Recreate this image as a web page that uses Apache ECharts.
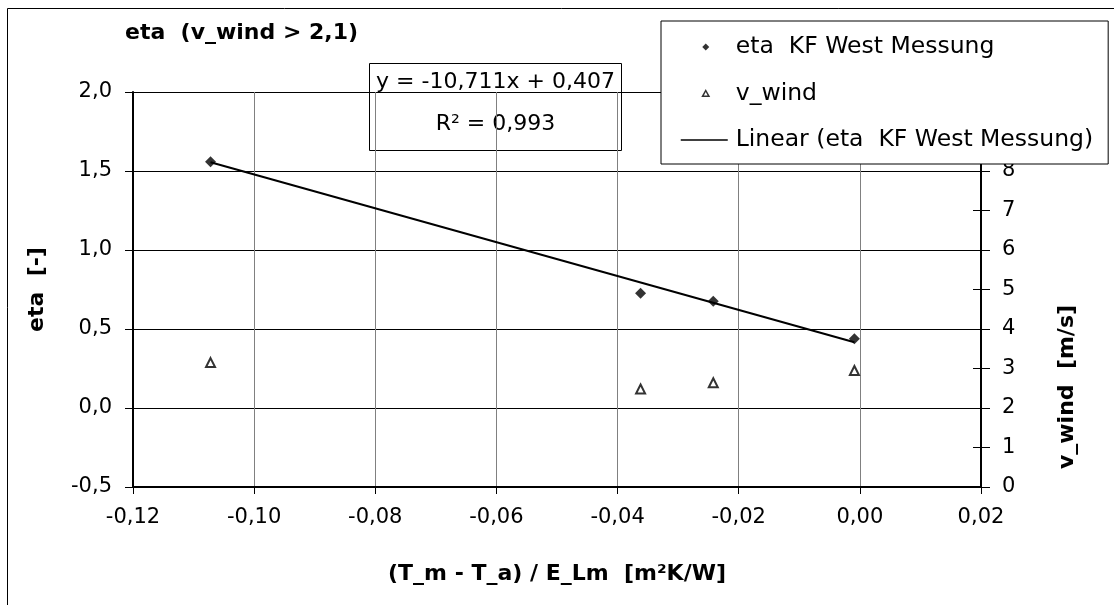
<!DOCTYPE html>
<html>
<head>
<meta charset="utf-8">
<script src="https://cdn.jsdelivr.net/npm/echarts@6/dist/echarts.min.js"></script>
<style>html,body{margin:0;padding:0;background:#fff;}#c{width:1114px;height:605px;}</style>
</head>
<body>
<div id="c"></div>
<script>
// ---- data ----
const xValues = [-0.1072, -0.0362, -0.0242, -0.0009];   // (T_m - T_a) / E_Lm
const etaValues = [1.559, 0.726, 0.675, 0.438];          // eta KF West Messung
const windValues = [3.15, 2.48, 2.64, 2.95];             // v_wind [m/s]
const trendSlope = -10.711;
const trendIntercept = 0.407;
const rSquared = '0,993';
const seriesNames = ['eta  KF West Messung', 'v_wind', 'Linear (eta  KF West Messung)'];
const titleText = 'eta  (v_wind > 2,1)';
const xAxisName = '(T_m - T_a) / E_Lm  [m\u00B2K/W]';
const yAxisName = 'eta  [-]';
const y2AxisName = 'v_wind  [m/s]';
const xRange = {min: -0.12, max: 0.02, interval: 0.02};
const yRange = {min: -0.5, max: 2.0, interval: 0.5};
const y2Range = {min: 0, max: 10, interval: 1};

const FONT = "'DejaVu Sans', sans-serif";
const comma = (v, d) => (Math.abs(v) < 1e-9 ? 0 : v).toFixed(d).replace('.', ',');

const etaData = xValues.map((x, i) => [x, etaValues[i]]);
const windData = xValues.map((x, i) => [x, windValues[i]]);
const tx0 = Math.min(...xValues), tx1 = Math.max(...xValues);
const trendData = [[tx0, trendSlope * tx0 + trendIntercept], [tx1, trendSlope * tx1 + trendIntercept]];
const eqText = 'y = ' + comma(trendSlope, 3) + 'x + ' + comma(trendIntercept, 3);

// legend icons drawn inside a 50x8 box (corner points keep the box size)
const BOX = ' M0,0 L0,0 M50,8 L50,8';
const iconDiamond = 'path://M25,0.5 L28.5,4 L25,7.5 L21.5,4 Z' + BOX;
const iconTriangle = 'path://M25,1 L28.2,6.8 L21.8,6.8 Z' + BOX;
const iconLine = 'path://M0,3.3 L47,3.3 L47,4.7 L0,4.7 Z' + BOX;

const chart = echarts.init(document.getElementById('c'), null, {renderer: 'canvas'});
chart.setOption({
  backgroundColor: '#fff',
  animation: false,
  textStyle: {fontFamily: FONT, color: '#000'},
  title: {
    text: titleText, left: 125, top: 22, padding: 0,
    textStyle: {fontFamily: FONT, fontSize: 22, fontWeight: 'bold', color: '#000'}
  },
  grid: {left: 133, right: 133, top: 92, bottom: 118, containLabel: false},
  legend: {
    orient: 'vertical', left: 661, top: 21,
    padding: [14, 15, 12, 19],
    itemWidth: 50, itemHeight: 8, itemGap: 22.5,
    symbolKeepAspect: true,
    backgroundColor: '#fff', borderColor: '#000', borderWidth: 1,
    textStyle: {fontFamily: FONT, fontSize: 23.5, color: '#000'},
    data: [
      {name: seriesNames[0], icon: iconDiamond, itemStyle: {color: '#000', borderWidth: 0}},
      {name: seriesNames[1], icon: iconTriangle, itemStyle: {color: '#fff', borderColor: '#000', borderWidth: 1.5}},
      {name: seriesNames[2], icon: iconLine, itemStyle: {color: '#000', borderWidth: 0}}
    ],
    selectedMode: false, z: 10
  },
  xAxis: {
    type: 'value', min: xRange.min, max: xRange.max, interval: xRange.interval,
    name: xAxisName, nameLocation: 'middle', nameGap: 76,
    nameTextStyle: {fontFamily: FONT, fontSize: 22, fontWeight: 'bold', color: '#000'},
    axisLine: {show: true, onZero: false, lineStyle: {color: '#000', width: 2}},
    axisTick: {show: true, inside: false, length: 7, lineStyle: {color: '#000', width: 1}},
    axisLabel: {fontFamily: FONT, fontSize: 21, color: '#000', margin: 20, formatter: v => comma(v, 2)},
    splitLine: {show: true, lineStyle: {color: '#808080', width: 1}}
  },
  yAxis: [
    {
      type: 'value', position: 'left', min: yRange.min, max: yRange.max, interval: yRange.interval,
      name: yAxisName, nameLocation: 'middle', nameGap: 85,
      nameTextStyle: {fontFamily: FONT, fontSize: 22, fontWeight: 'bold', color: '#000'},
      axisLine: {show: true, onZero: false, lineStyle: {color: '#000', width: 2}},
      axisTick: {show: true, inside: false, length: 8, lineStyle: {color: '#000', width: 1}},
      axisLabel: {fontFamily: FONT, fontSize: 21, color: '#000', margin: 21, formatter: v => comma(v, 1)},
      splitLine: {show: true, lineStyle: {color: '#000', width: 1}}
    },
    {
      type: 'value', position: 'right', min: y2Range.min, max: y2Range.max, interval: y2Range.interval,
      axisLine: {show: true, onZero: false, lineStyle: {color: '#000', width: 2}},
      axisTick: {show: true, inside: false, length: 9, lineStyle: {color: '#000', width: 1}},
      axisLabel: {fontFamily: FONT, fontSize: 21, color: '#000', margin: 21, formatter: v => String(Math.round(v))},
      splitLine: {show: false}
    },
    {
      type: 'value', position: 'right', min: y2Range.min, max: y2Range.max, interval: y2Range.interval,
      axisLine: {show: false, onZero: false},
      axisTick: {show: true, inside: true, length: 8, lineStyle: {color: '#000', width: 1}},
      axisLabel: {show: false},
      splitLine: {show: false}
    }
  ],
  series: [
    {
      name: seriesNames[0], type: 'scatter', yAxisIndex: 0, data: etaData,
      symbol: 'diamond', symbolSize: 11,
      itemStyle: {color: '#000'}, z: 5
    },
    {
      name: seriesNames[1], type: 'scatter', yAxisIndex: 1, data: windData,
      symbol: 'triangle', symbolSize: 9,
      itemStyle: {color: '#fff', borderColor: '#000', borderWidth: 2}, z: 5
    },
    {
      name: seriesNames[2], type: 'line', yAxisIndex: 0, data: trendData,
      symbol: 'none', lineStyle: {color: '#000', width: 2}, itemStyle: {color: '#000'}, z: 4
    }
  ],
  graphic: [
    {
      type: 'rect', shape: {x: 7.5, y: 8.5, width: 1200, height: 700},
      style: {fill: 'none', stroke: '#000', lineWidth: 1}, z: 0, silent: true
    },
    {
      type: 'group', z: 20, children: [
        {type: 'rect', shape: {x: 369.5, y: 63.5, width: 252, height: 87},
         style: {fill: '#fff', stroke: '#000', lineWidth: 1}},
        {type: 'text', x: 495.5, y: 82,
         style: {text: eqText, font: '22px ' + FONT, fill: '#000', align: 'center', verticalAlign: 'middle'}},
        {type: 'text', x: 495.5, y: 124,
         style: {text: 'R\u00B2 = ' + rSquared, font: '22px ' + FONT, fill: '#000', align: 'center', verticalAlign: 'middle'}}
      ]
    },
    {
      type: 'text', x: 1067, y: 387, rotation: Math.PI / 2, z: 20,
      style: {text: y2AxisName, font: 'bold 22px ' + FONT, fill: '#000', align: 'center', verticalAlign: 'middle'}
    }
  ]
});
</script>
</body>
</html>
